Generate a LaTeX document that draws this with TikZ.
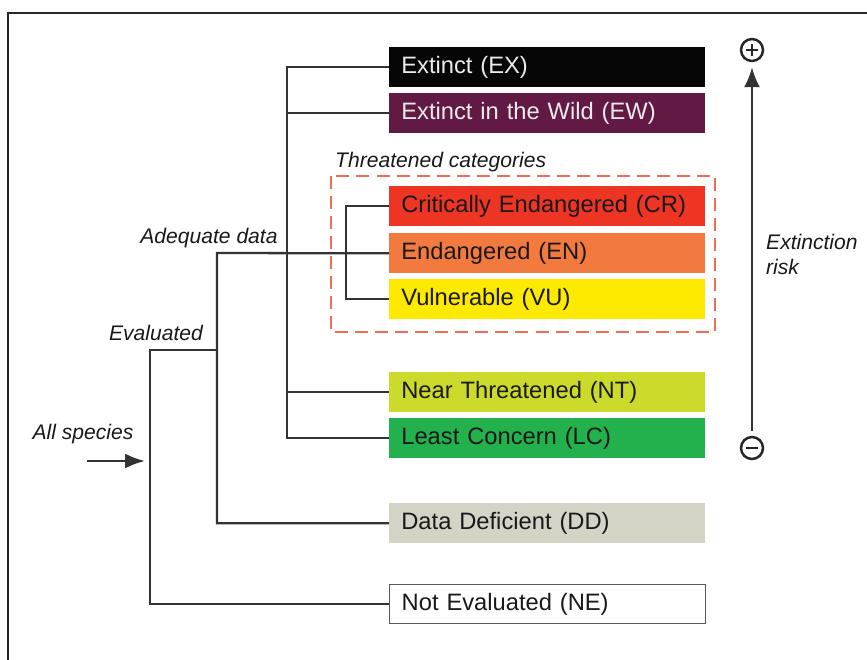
\documentclass[tikz,border=0pt]{standalone}
\usepackage{fontspec}
\setmainfont{Liberation Sans}
\usetikzlibrary{arrows.meta}

\definecolor{exblack}{HTML}{060606}
\definecolor{ewpurple}{HTML}{621A45}
\definecolor{crred}{HTML}{EE3524}
\definecolor{enorange}{HTML}{F37A3F}
\definecolor{vuyellow}{HTML}{FEEA00}
\definecolor{ntlime}{HTML}{CCDB2B}
\definecolor{lcgreen}{HTML}{22B14C}
\definecolor{ddgrey}{HTML}{D3D4C6}
\definecolor{threatdash}{HTML}{F26C54}

\tikzset{
  cat/.style={anchor=north west, minimum height=0.8cm, text width=5.84cm, align=left,
    inner xsep=0.24cm, inner ysep=0pt, font=\fontsize{13.5}{16}\selectfont, text=black!90},
  tree/.style={line width=1.3pt, draw=black!80},
  lab/.style={font=\fontsize{12}{14.2}\selectfont\itshape, text=black!90},
  sign/.style={circle, draw=black!85, line width=1.4pt, minimum size=0.44cm, inner sep=0pt},
}

\begin{document}
\begin{tikzpicture}[x=0.02cm, y=-0.02cm]
      \useasboundingbox (0,0) rectangle (867,660);
      \draw[line width=0.9pt, black!85] (8,660) |- (867,13);

      % categories
      \node[cat, fill=exblack, text=white!92!black] (ex) at (389,47) {Extinct (EX)};
      \node[cat, fill=ewpurple, text=white!92!black] (ew) at (389,93) {Extinct in the Wild (EW)};
      \node[cat, fill=crred] (cr) at (389,186) {Critically Endangered (CR)};
      \node[cat, fill=enorange] (en) at (389,233) {Endangered (EN)};
      \node[cat, fill=vuyellow] (vu) at (389,279) {Vulnerable (VU)};
      \node[cat, fill=ntlime] (nt) at (389,372) {Near Threatened (NT)};
      \node[cat, fill=lcgreen] (lc) at (389,418) {Least Concern (LC)};
      \node[cat, fill=ddgrey] (dd) at (389,503) {Data Deficient (DD)};
      \node[cat, fill=white, draw=black!65, line width=0.8pt, minimum height=0.78cm] (ne) at (389,584) {Not Evaluated (NE)};

      % threatened group
      \draw[threatdash, line width=1.1pt, dash pattern=on 7.4pt off 4pt] (331,176) rectangle (715,332);
      \node[lab, anchor=west] (thrlab) at (329,162) {Threatened categories};

      % tree
      \coordinate (trunk) at (287,0);
      \coordinate (thr) at (346,0);
      \coordinate (adq) at (217,253);
      \coordinate (eval) at (150,350);
      \coordinate (all) at (87,461);
      \draw[tree] (ex.west) -- (ex.west -| trunk) |- (lc.west);
      \draw[tree] (ew.west) -- (ew.west -| trunk);
      \draw[tree] (nt.west) -- (nt.west -| trunk);
      \draw[tree] (cr.west) -- (cr.west -| thr) |- (vu.west);
      \draw[tree] (en.west) -- (adq) |- (dd.west);
      \draw[tree] (adq |- eval) -- (eval) |- (ne.west);
      \draw[tree, -{Latex[length=4mm, width=3mm]}, shorten >=0.1cm] (all) -- (all -| eval);

      \node[lab] (alllab) at (83,434) {All species};
      \node[lab] (evallab) at (156,333) {Evaluated};
      \node[lab] (adqlab) at (209,238) {Adequate data};

      % extinction risk scale
      \node[sign] (plus) at (752,50) {};
      \draw[line width=1.6pt, black!85] (plus.center) ++(-6,0) -- ++(12,0) (plus.center) ++(0,-6) -- ++(0,12);
      \node[sign] (minus) at (752,448) {};
      \draw[line width=1.6pt, black!85] (minus.center) ++(-6,0) -- ++(12,0);
      \draw[tree, -{Latex[length=4mm, width=3.2mm]}, shorten <=0.1cm, shorten >=0.1cm] (minus.north) -- (plus.south);
      \node[lab, anchor=west, align=left] (risk) at (760,254) {Extinction\\risk};
\end{tikzpicture}
\end{document}
